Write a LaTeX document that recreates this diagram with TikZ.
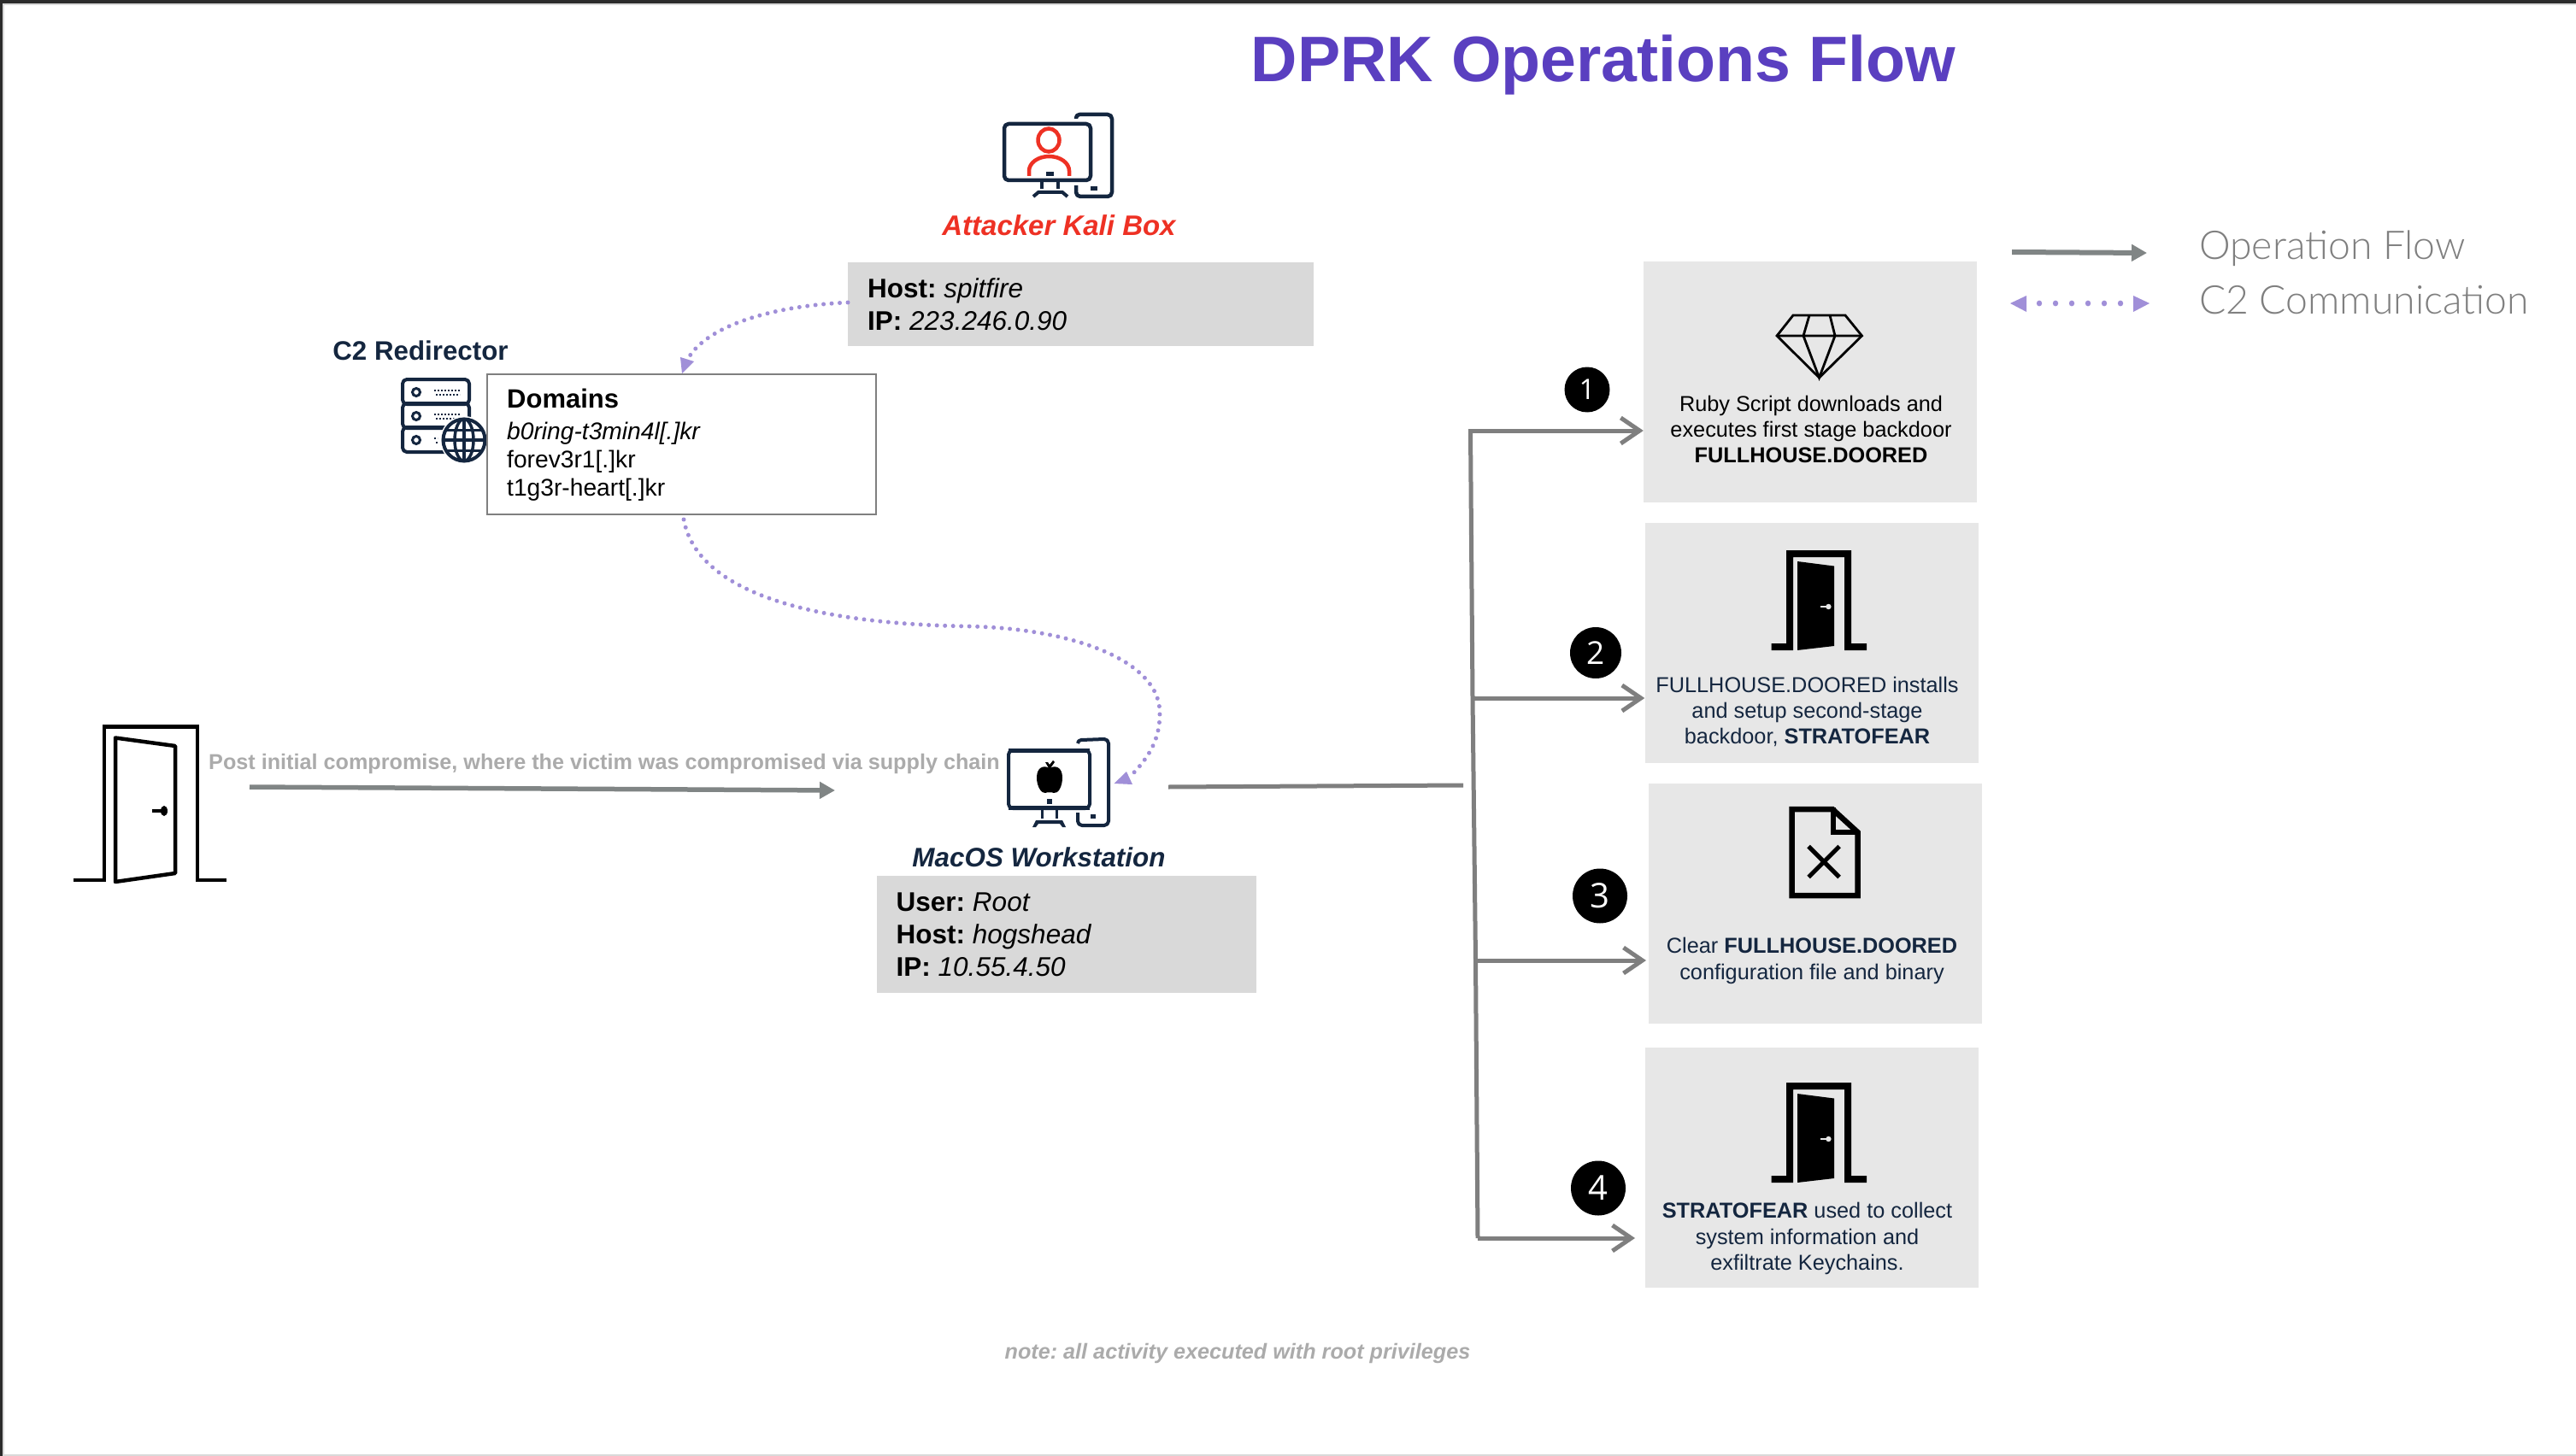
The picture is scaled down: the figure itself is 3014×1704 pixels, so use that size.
\documentclass[tikz,border=0pt]{standalone}
\usepackage{fontspec}
\setmainfont{Liberation Sans}
\newfontfamily\lato{Lato Light}
\newfontfamily\digitfont{Open Sans}
\usetikzlibrary{arrows.meta,calc}
\definecolor{navy}{HTML}{14263F}
\definecolor{titlepurple}{HTML}{5A3FC0}
\definecolor{attackred}{HTML}{EE3124}
\definecolor{c2purple}{HTML}{A08FD8}
\definecolor{flowgray}{HTML}{808585}
\definecolor{branchgray}{HTML}{7F7F7F}
\definecolor{hostgray}{HTML}{D9D9D9}
\definecolor{stepgray}{HTML}{E7E7E7}
\definecolor{softtext}{HTML}{ABABAB}
\definecolor{edgedark}{HTML}{2B2B2B}
\newcommand{\fs}[2]{\fontsize{#1}{#2}\selectfont}
\frenchspacing
\tikzset{
  hostbox/.style={fill=hostgray,draw=none,inner sep=0pt},
  stepbox/.style={fill=stepgray,draw=none,inner sep=0pt,minimum width=390pt,minimum height=281pt},
  steptext/.style={align=center,inner sep=0pt,font=\fs{25.3}{30.2}},
  hosttext/.style={align=left,anchor=west,inner sep=0pt,font=\fs{31.5}{38.2}},
  marker/.style={circle,fill=black,text=white,inner sep=0pt,font=\digitfont},
  flow/.style={draw=flowgray,line width=5.5pt,-{Triangle[length=18pt,width=19pt]}},
  branch/.style={draw=branchgray,line width=5pt,-{Straight Barb[length=22pt,width=30pt,line width=5pt]}},
  trunk/.style={draw=branchgray,line width=5pt},
  c2/.style={draw=c2purple,line width=5pt,line cap=round,dash pattern=on 0pt off 9.5pt},
  c2head/.style={fill=c2purple,draw=none},
  iconline/.style={draw=navy,line width=4.5pt,line join=round,fill=none},
}
\newcommand{\solidDoor}{%
  \fill[black] (2072.5,761) -- (2072.5,753) -- (2090,753) -- (2090,644) -- (2166,644) -- (2166,753) -- (2184,753) -- (2184,761) -- (2158,761) -- (2158,652) -- (2098,652) -- (2098,761) -- cycle;
  \fill[black] (2103,657) -- (2146,662.5) -- (2146,756) -- (2103,761) -- cycle;
  \fill[stepgray] (2139.4,710) circle (3.2pt);
  \draw[stepgray,line width=2pt] (2130,710) -- (2138,710);
}
\begin{document}
\begin{tikzpicture}[x=1pt,y=-1pt]
\useasboundingbox (0,0) rectangle (3014,1704);
\fill[white] (0,0) rectangle (3014,1704);
\fill[hostgray] (0,0) rectangle (3014,6);
\fill[hostgray] (0,0) rectangle (5,1704);
\fill[hostgray] (0,1702) rectangle (3014,1704);
\fill[edgedark] (0,0) rectangle (3014,4);
\fill[edgedark] (0,0) rectangle (3,1704);

% title
\node[anchor=center,inner sep=0pt,text=titlepurple,font=\fs{75.3}{80}\bfseries] (title) at (1876,76) {DPRK Operations Flow};

% attacker icon
\begin{scope}
  \draw[iconline] (1259,139) -- (1259,138) arc[start angle=180,end angle=90,radius=4pt] -- (1296,134) arc[start angle=90,end angle=0,radius=5pt] -- (1301,225) arc[start angle=0,end angle=-90,radius=5pt] -- (1264,230) arc[start angle=-90,end angle=-180,radius=5pt] -- (1259,217);
  \draw[iconline] (1175,150) arc[start angle=180,end angle=90,radius=5pt] -- (1271,145) arc[start angle=90,end angle=0,radius=5pt] -- (1276,206) arc[start angle=0,end angle=-90,radius=5pt] -- (1180,211) arc[start angle=-90,end angle=-180,radius=5pt] -- cycle;
  \draw[navy,line width=4.5pt] (1219,213) -- (1219,221) (1238,213) -- (1238,221);
  \draw[navy,line width=4pt] (1209,230) -- (1215,225) -- (1243,225) -- (1249,230);
  \fill[navy] (1224,201) rectangle (1233,206);
  \fill[navy] (1276,218) rectangle (1284,223);
  \draw[attackred,line width=4.5pt] (1227,164) ellipse (12.5pt and 13.5pt);
  \draw[attackred,line width=4.5pt] (1204,206) -- (1204,200) arc[start angle=180,end angle=0,x radius=23.5pt,y radius=17pt] -- (1251,206);
\end{scope}
\node[anchor=center,inner sep=0pt,text=attackred,font=\fs{33}{36}\bfseries\itshape] (attacker) at (1239,264) {Attacker Kali Box};
\node[hostbox,minimum width=545pt,minimum height=98pt] (kali) at (1264.5,356) {};
\node[hosttext] (kalitext) at (1015,356) {\textbf{Host:} \textit{spitfire}\\\textbf{IP:} \textit{223.246.0.90}};

% redirector
\node[anchor=center,inner sep=0pt,text=navy,font=\fs{31.3}{34}\bfseries] (redir) at (492,410.5) {C2 Redirector};
\foreach \yy in {445,473,501} {
  \draw[iconline,line width=4pt] (471,\yy+4) arc[start angle=180,end angle=90,radius=5pt] -- (544,\yy-1) arc[start angle=90,end angle=0,radius=5pt] -- (549,\yy+23) arc[start angle=0,end angle=-90,radius=5pt] -- (476,\yy+28) arc[start angle=-90,end angle=-180,radius=5pt] -- cycle;
  \draw[navy,line width=3pt] (487,\yy+14) circle (4.5pt);
}
\foreach \yy/\xe in {459/538,487/538,515/512} {
  \draw[navy,line width=2.5pt,dash pattern=on 2pt off 2pt] (508,\yy-2) -- (\xe,\yy-2);
  \draw[navy,line width=2.5pt,dash pattern=on 2pt off 2pt] (510,\yy+3) -- (\xe,\yy+3);
}
\fill[white] (543,515) circle (28pt);
\draw[navy,line width=4pt] (543,515) circle (24.5pt);
\draw[navy,line width=3.5pt] (543,515) ellipse (11pt and 24.5pt);
\draw[navy,line width=3.5pt] (543,490.5) -- (543,539.5) (519,515) -- (567,515);
\draw[navy,line width=3pt] (522,503) -- (564,503) (522,527) -- (564,527);

\node[draw=branchgray,line width=2pt,fill=white,minimum width=455pt,minimum height=164pt,inner sep=0pt] (domains) at (797.5,520) {};
\node[anchor=west,inner sep=0pt,font=\fs{31}{34}\bfseries] (domhead) at (593,466.5) {Domains};
\node[anchor=west,inner sep=0pt,align=left,font=\fs{28.2}{33}] (domlist) at (593,540.5) {\textit{b0ring-t3min4l[.]kr}\\forev3r1[.]kr\\t1g3r-heart[.]kr};

% entry door
\draw[black,line width=4pt] (86,1030) -- (121.5,1030) -- (121.5,851) (231,851) -- (231,1030) -- (265,1030);
\fill[black] (120,848) rectangle (233,853);
\draw[black,line width=4.5pt,line join=round] (135,863.5) -- (205,873) -- (205,1022) -- (135,1032) -- cycle;
\fill[black] (192,949) ellipse (4pt and 6pt);
\draw[black,line width=3.5pt] (178,949) -- (190,949);
\node[anchor=west,inner sep=0pt,text=softtext,font=\fs{25.2}{28}\bfseries] (postlabel) at (244,894) {Post initial compromise, where the victim was compromised via supply chain};

% workstation
\begin{scope}
  \draw[iconline,line width=4pt] (1261,870) arc[start angle=180,end angle=90,radius=4pt] -- (1292,865) arc[start angle=90,end angle=0,radius=5pt] -- (1297,961) arc[start angle=0,end angle=-90,radius=5pt] -- (1266,966) arc[start angle=-90,end angle=-180,radius=5pt] -- (1261,951);
  \draw[iconline,line width=4pt] (1180,883) arc[start angle=180,end angle=90,radius=5pt] -- (1270,878) arc[start angle=90,end angle=0,radius=5pt] -- (1275,941) arc[start angle=0,end angle=-90,radius=5pt] -- (1185,946) arc[start angle=-90,end angle=-180,radius=5pt] -- cycle;
  \draw[navy,line width=5pt] (1180,878.5) -- (1275,878.5) (1180,945.5) -- (1275,945.5);
  \draw[navy,line width=3pt] (1219,948) -- (1219,958) (1236,948) -- (1236,958);
  \fill[navy] (1208,968) -- (1212,960) -- (1243,960) -- (1247,968) -- (1243,968) -- (1240,964) -- (1215,964) -- (1212,968) -- cycle;
  \fill[navy] (1225,935) rectangle (1231,941);
  \fill[navy] (1276,953) rectangle (1282,958);
  \fill[black] (1228,899) .. controls (1221,895) and (1213,898) .. (1213,910) .. controls (1213,921) and (1219,929) .. (1223,928) .. controls (1225,927) and (1231,927) .. (1233,928) .. controls (1238,929) and (1243,921) .. (1243,910) .. controls (1243,898) and (1235,895) .. (1228,899) -- cycle;
  \fill[black] (1227,899) -- (1223,892) -- (1226,892) -- (1228,895) -- (1232,890) -- (1234,892) -- (1229,899) -- cycle;
\end{scope}
\coordinate (macIn) at (1303.5,917);
\coordinate (macOut) at (1367,921);
\node[anchor=center,inner sep=0pt,text=navy,font=\fs{31.4}{34}\bfseries\itshape] (macname) at (1215.5,1003.5) {MacOS Workstation};
\node[hostbox,minimum width=444pt,minimum height=137pt] (mac) at (1248,1093) {};
\node[hosttext] (mactext) at (1048.5,1094) {\textbf{User:} \textit{Root}\\\textbf{Host:} \textit{hogshead}\\\textbf{IP:} \textit{10.55.4.50}};

% flow into workstation
\coordinate (entryA) at (292,921);
\coordinate (entryB) at (977,925);
\draw[flow] (entryA) -- (entryB);

% C2 curves
\coordinate (c2a) at (992,354);
\coordinate (c2b) at (798,437);
\draw[c2] (c2a) .. controls (905,358) and (830,380) .. (806,418);
\fill[c2head] (c2b) -- (796,418) -- (812,423) -- cycle;
\coordinate (c2c) at (800,608);
\draw[c2] (c2c) .. controls (815,690) and (940,730) .. (1134,733) .. controls (1260,736) and (1358,775) .. (1357,835) .. controls (1357,865) and (1345,885) .. (1325,906);
\fill[c2head] (macIn) -- (1318,903) -- (1325,918) -- cycle;

% right-hand boxes
\node[stepbox] (step1) at (2118,447) {};
\node[stepbox] (step2) at (2119.5,752) {};
\node[stepbox] (step3) at (2124,1057.5) {};
\node[stepbox] (step4) at (2119.5,1366.5) {};

% diamond
\draw[black,line width=2.8pt,line join=miter] (2098,369) -- (2159,369) -- (2178.5,393) -- (2128.5,442) -- (2079,393) -- cycle;
\draw[black,line width=2.8pt] (2079,393) -- (2178.5,393) (2117,369) -- (2110,393) -- (2128.5,442) -- (2147,393) -- (2141,369);
\node[steptext] (text1) at (2119,502.5) {Ruby Script downloads and\\executes first stage backdoor\\\textbf{FULLHOUSE.DOORED}};

\solidDoor
\node[steptext,text=navy] (text2) at (2114.5,833) {FULLHOUSE.DOORED installs\\and setup second-stage\\backdoor, \textbf{STRATOFEAR}};

% file icon
\draw[black,line width=6.5pt,line join=miter] (2096.5,947) -- (2144,947) -- (2173.5,974) -- (2173.5,1048) -- (2096.5,1048) -- cycle;
\draw[black,line width=6pt] (2145,945) -- (2145,974) -- (2175,974);
\draw[black,line width=5pt] (2116,990.5) -- (2152,1026.5) (2152,990.5) -- (2116,1026.5);
\node[steptext,text=navy] (text3) at (2120,1124.5) {Clear \textbf{FULLHOUSE.DOORED}\\configuration file and binary};

\begin{scope}[shift={(0,623)}]
\solidDoor
\end{scope}
\node[steptext,text=navy] (text4) at (2114.5,1449.5) {\textbf{STRATOFEAR} used to collect\\system information and\\exfiltrate Keychains.};

% trunk and branches
\coordinate (stub) at (1712,919);
\draw[trunk] (macOut) -- (stub);
\coordinate (j1) at (1718,504);
\coordinate (j2) at (1723,817);
\coordinate (j3) at (1726.5,1124);
\coordinate (j4) at (1729,1449);
\draw[trunk] (j1) ++(2.5,0) -- (j2) -- (j3) -- (j4);
\draw[branch] (j1) -- (j1 -| step1.west);
\draw[branch] (j2) -- (j2 -| step2.west);
\coordinate (e3) at (1926,1124);
\coordinate (e4) at (1913,1449);
\draw[branch] (j3) -- (e3);
\draw[branch] (j4) -- (e4);

\node[marker,minimum size=53pt,font=\digitfont\fs{33}{36}] (m1) at (1857,456) {1};
\node[marker,minimum size=60pt,font=\digitfont\fs{37}{40}] (m2) at (1867,764) {2};
\node[marker,minimum size=64pt,font=\digitfont\fs{40}{44}] (m3) at (1872,1048.5) {3};
\node[marker,minimum size=64pt,font=\digitfont\fs{40}{44}] (m4) at (1870,1390.5) {4};

% legend
\coordinate (lgA) at (2354,295);
\coordinate (lgB) at (2512,296);
\draw[flow,line width=6pt] (lgA) -- (lgB);
\foreach \xx in {2386,2405,2424,2443,2462,2481} \fill[c2purple] (\xx,355) ellipse (3.2pt and 3.4pt);
\fill[c2head] (2352,355) -- (2371,346) -- (2371,365) -- cycle;
\fill[c2head] (2515,355) -- (2496,346) -- (2496,365) -- cycle;
\node[anchor=west,inner sep=0pt,text=branchgray,font=\lato\fs{46.3}{50}] (lg1) at (2573,291) {Operation Flow};
\node[anchor=west,inner sep=0pt,text=branchgray,font=\lato\fs{46.3}{50}] (lg2) at (2573,351) {C2 Communication};

% note
\node[anchor=center,inner sep=0pt,text=softtext,font=\fs{25.2}{28}\bfseries\itshape] (note) at (1448,1584) {note: all activity executed with root privileges};
\end{tikzpicture}
\end{document}
